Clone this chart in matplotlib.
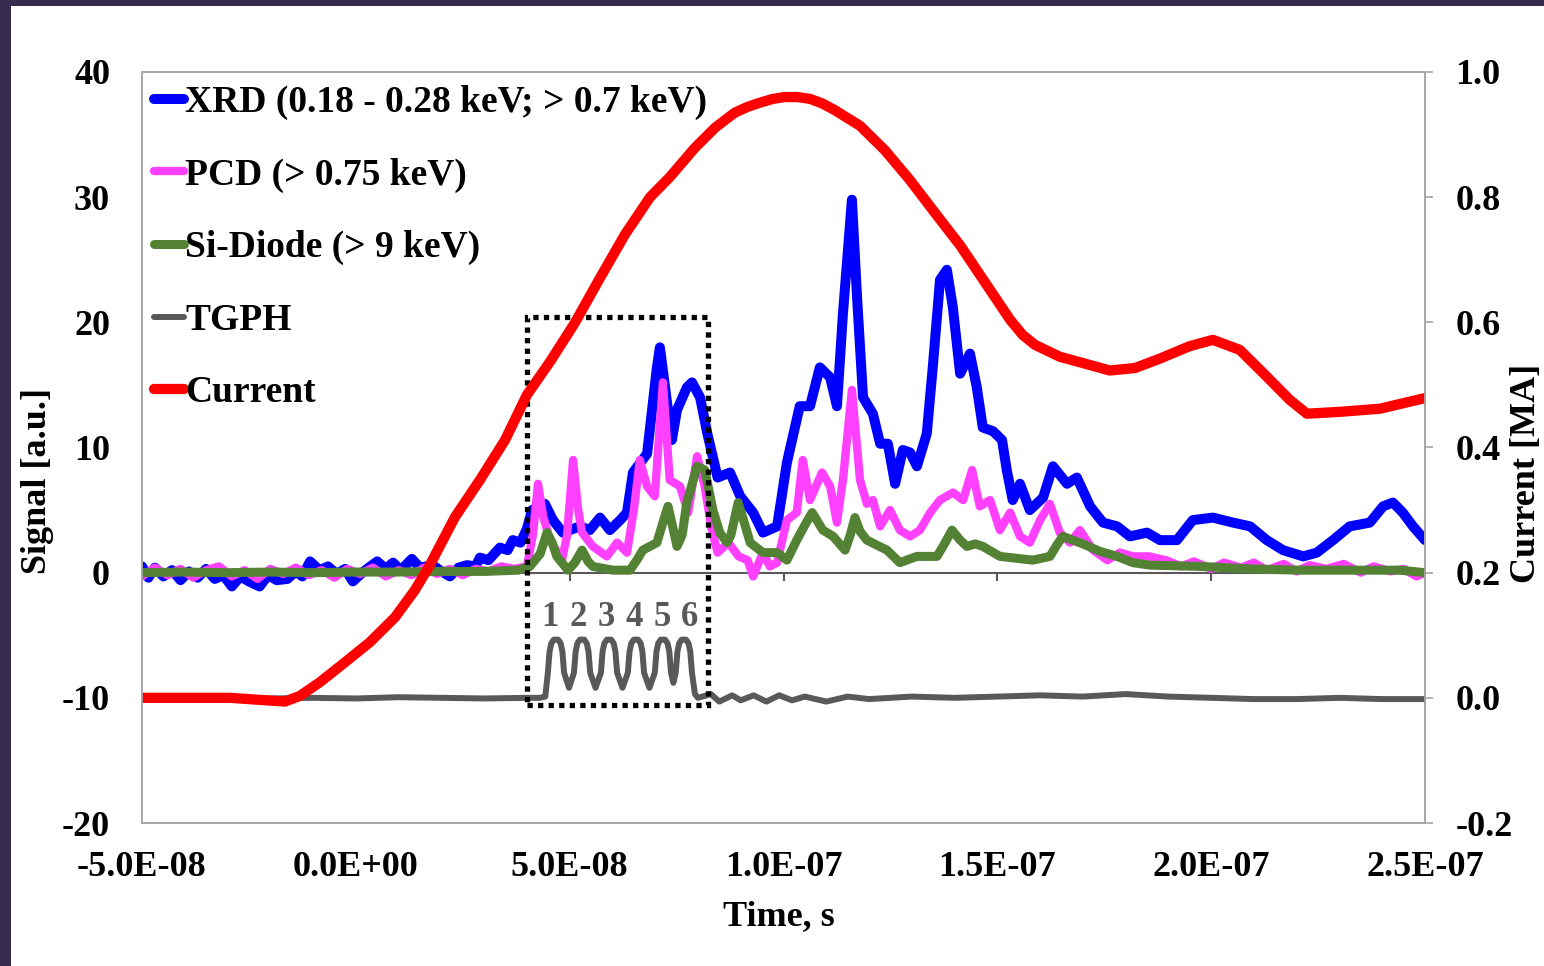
import matplotlib
matplotlib.use('Agg')
import matplotlib.pyplot as plt
from matplotlib.patches import Rectangle
import numpy as np

plt.rcParams['font.family'] = ['Liberation Serif', 'DejaVu Serif']
plt.rcParams['font.weight'] = 'bold'
plt.rcParams['axes.unicode_minus'] = False

# time in ns, signal in a.u., current in MA
xrd_t = [-50, -48.5, -47, -45, -43, -41, -39, -37, -35, -33, -31, -29, -27, -25, -22.5, -20.5,
         -18.5, -16, -14, -12.5, -10.7, -8.5, -6.5, -4.5, -2.5, -0.7, 1.5, 3, 5, 7, 8.7, 10.5,
         13.1, 15, 18, 20, 22, 24, 26, 28, 29, 31, 33.7, 35.5, 36.7, 38.5, 40, 41.2, 44.2, 46.1,
         48.4, 52.4, 54.7, 57.1, 59.4, 61.8, 63.4, 64.8, 68.1, 70.4, 71.1, 72.7, 73.9, 75.1, 77.4,
         78.6, 80.5, 82.2, 84.6, 87.5, 89.9, 92.9, 95.2, 98.5, 100.8, 103.8, 106.2, 108.5, 110.9,
         112.5, 113.9, 116.0, 117.2, 118.6, 120.9, 122.6, 124.4, 126.1, 127.9, 129.6, 131.2, 133.5,
         134.9, 136.6, 138.2, 139.6, 141.3, 143.6, 145.2, 146.6, 149.0, 151.1, 152.2, 153.6, 155.3,
         157.6, 160.7, 163.0, 166.3, 168.6, 171.7, 174.7, 178.0, 181.0, 185.0, 188.0, 192.0, 195.7,
         200.4, 205.1, 209.1, 213.0, 216.8, 221.5, 224.7, 228.5, 232.4, 237.1, 240.2, 242.5, 244.8,
         247.2, 250.0]
xrd = [0.5, -0.4, 0.4, -0.3, 0.2, -0.6, 0.1, -0.4, 0.3, -0.5, -0.2, -1.1, -0.3, -0.7, -1.1, -0.2,
       -0.6, -0.5, 0.1, -0.3, 0.9, 0.2, 0.5, -0.1, 0.3, -0.7, 0.0, 0.4, 0.9, 0.3, 0.8, 0.2,
       1.1, 0.4, 0.6, 0.1, -0.3, 0.4, 0.6, 0.5, 1.2, 1.0, 2.0, 1.8, 2.6, 2.4, 3.5, 5.0, 5.5, 4.2,
       3.2, 3.7, 3.4, 4.4, 3.4, 4.2, 4.8, 8.0, 9.5, 16.4, 18.0, 13.8, 10.6, 13.0, 14.8,
       15.2, 14.0, 11.1, 7.6, 8.0, 6.1, 4.8, 3.2, 3.7, 8.8, 13.3, 13.3, 16.4, 15.6,
       13.3, 20.7, 29.8, 22.0, 14.0, 12.7, 10.3, 10.3, 7.1, 9.8, 9.6, 8.5, 11.1,
       16.4, 23.4, 24.2, 21.2, 15.9, 17.5, 14.8, 11.6, 11.3, 10.6, 8.2, 5.8, 7.1,
       5.0, 6.0, 8.5, 7.1, 7.6, 5.3, 4.0, 3.7, 2.9, 3.2, 2.6, 2.6, 4.2,
       4.4, 4.0, 3.7, 2.6, 1.8, 1.3, 1.6, 2.6, 3.7, 4.0, 5.3, 5.6, 4.8,
       3.7, 2.6]

pcd_t = [-50, -47, -44, -41, -38, -35, -32, -29, -26, -23, -20, -17, -14, -11, -8, -5, -2, 1, 4, 7,
         10, 13, 16, 19, 22, 25, 28, 31, 34, 37, 40, 41.4, 42.6, 43.8, 45.4, 48.2, 49.4, 50.8, 52.0,
         52.9, 55.4, 58.7, 61.1, 63.4, 65.0, 66.4, 68.1, 69.9, 71.8, 73.4, 75.8, 77.7, 79.8, 81.5,
         83.2, 84.6, 87.1, 89.5, 91.6, 92.9, 95.2, 96.8, 98.5, 100.8, 103.1, 104.5, 106.2, 109.0,
         110.9, 112.5, 113.9, 116.0, 117.9, 119.5, 120.9, 122.6, 124.9, 127.2, 129.6, 131.9, 134.3,
         136.6, 139.6, 142.0, 144.1, 145.9, 148.3, 150.6, 153.0, 155.3, 157.6, 160.0, 162.3, 164.6,
         167.0, 169.3, 172.4, 175.7, 178.7, 181.7, 185.4, 189.4, 193, 196, 200, 203, 207, 210, 213,
         217, 220, 223, 227, 231, 235, 238, 242, 245, 248, 250]
pcd = [-0.3, 0.4, -0.2, 0.3, -0.4, 0.2, 0.5, -0.3, 0.2, -0.5, 0.3, -0.1, 0.4, -0.2, 0.2, -0.4, 0.3,
       -0.1, 0.4, -0.3, 0.2, -0.2, 0.4, -0.1, 0.3, -0.2, 0.3, 0.1, 0.5, 0.3, 0.5, 3.0, 7.1, 4.5,
       2.6, 1.0, 3.0, 9.0, 5.0, 3.2, 2.1, 1.3, 2.4, 1.6, 5.0, 9.0, 6.9, 6.1, 15.2, 7.4, 6.9, 4.8,
       9.3, 7.0, 3.5, 1.6, 2.4, 1.3, 1.0, -0.3, 1.6, 0.5, 0.8, 4.2, 4.8, 9.0, 5.8, 8.0, 6.9, 4.0,
       7.4, 14.6, 7.4, 5.5, 5.8, 3.7, 5.0, 3.4, 2.9, 3.4, 4.8, 5.8, 6.4, 5.8, 8.2, 5.3, 5.8, 3.4,
       4.8, 2.9, 2.4, 4.2, 5.5, 3.2, 2.4, 3.4, 1.8, 1.0, 1.6, 1.3, 1.3, 1.0, 0.5, 0.9, 0.3, 0.8,
       0.4, 0.8, 0.2, 0.7, 0.1, 0.6, 0.3, 0.7, 0.0, 0.5, 0.1, 0.3, -0.3, 0.0]

si_t = [-50, -40, -30, -20, -10, 0, 10, 20, 30, 38, 40.7, 43.1, 44.7, 45.9, 47.0, 49.6, 51.2, 52.9,
        54.3, 55.4, 60.1, 64.1, 65.7, 67.1, 70.4, 71.8, 73.0, 74.2, 75.1, 76.3, 77.4, 79.8, 81.6,
        83.5, 85.1, 86.8, 87.7, 89.4, 91.0, 92.2, 95.2, 98.5, 100.8, 103.1, 105.0, 106.7, 109.2,
        111.6, 114.4, 115.6, 116.7, 117.9, 119.5, 124.2, 127.2, 131.2, 135.9, 137.8, 139.4, 141.3,
        142.9, 144.8, 146.6, 150.6, 158.3, 162.3, 163.9, 165.3, 170.0, 174.0, 178.0, 181.7, 185.7,
        197.4, 209.1, 220.7, 232.4, 244.1, 250.0]
si = [0.0, 0.05, 0.0, 0.05, 0.0, 0.05, 0.05, 0.1, 0.1, 0.2, 0.5, 1.5, 3.2, 2.4, 1.3, 0.2, 0.8, 1.8,
      0.9, 0.5, 0.2, 0.2, 1.0, 1.8, 2.4, 4.0, 5.3, 3.5, 2.1, 3.0, 5.6, 8.5, 8.2,
      5.0, 3.2, 2.4, 3.0, 5.6, 3.8, 2.4, 1.6, 1.6, 1.0, 2.6, 3.8, 4.8, 3.4,
      2.9, 1.8, 3.0, 4.4, 3.3, 2.6, 1.8, 0.8, 1.3, 1.3, 2.4, 3.4, 2.6,
      2.1, 2.3, 2.1, 1.3, 1.0, 1.3, 2.2, 2.9, 2.3, 1.7, 1.3, 0.8, 0.6,
      0.5, 0.3, 0.2, 0.2, 0.2, 0.0]

tgph_t = [-50, -40, -30, -20, -10, 0, 10, 20, 30, 40, 43.0, 44.3,
          44.9, 45.3, 45.7, 46.3, 47.3, 47.9, 48.3, 48.7, 49.85,
          51.0, 51.4, 51.8, 52.4, 53.4, 54.0, 54.4, 54.8, 56.05,
          57.3, 57.7, 58.1, 58.7, 59.7, 60.3, 60.7, 61.1, 62.35,
          63.6, 64.0, 64.4, 65.0, 66.0, 66.6, 67.0, 67.4, 68.65,
          69.9, 70.3, 70.7, 71.3, 72.3, 72.9, 73.3, 73.7, 74.25,
          74.8, 75.2, 75.6, 76.2, 77.2, 77.8, 78.2, 78.6, 79.3, 80.0,
          83, 85, 88, 90, 93, 96, 99, 102,
          105, 110, 115, 120, 130, 140, 150, 160, 170, 180, 190, 200, 210, 220, 230, 240, 250]
tgph = [-10.0, -10.05, -9.95, -10.05, -10.0, -10.05, -9.95, -10.0, -10.05, -10.0, -10.0, -9.9,
        -8.0, -6.3, -5.65, -5.35, -5.35, -5.65, -6.3, -8.0, -9.2,
        -8.0, -6.3, -5.65, -5.35, -5.35, -5.65, -6.3, -8.0, -9.2,
        -8.0, -6.3, -5.65, -5.35, -5.35, -5.65, -6.3, -8.0, -9.2,
        -8.0, -6.3, -5.65, -5.35, -5.35, -5.65, -6.3, -8.0, -9.2,
        -8.0, -6.3, -5.65, -5.35, -5.35, -5.65, -6.3, -8.0, -8.8,
        -8.0, -6.3, -5.65, -5.35, -5.35, -5.65, -6.3, -8.0, -9.7, -10.0,
        -9.7, -10.3, -9.8, -10.2, -9.8, -10.3, -9.8, -10.2,
        -9.9, -10.3, -9.9, -10.1, -9.9, -10.0, -9.9, -9.8, -9.9,
        -9.7, -9.9, -10.0, -10.1, -10.1, -10.0, -10.1, -10.1]

cur_t = [-50, -29.4, -16.6, -13.1, -8.4, -2.5, 3.3, 9.2, 13.8, 17.3, 23.2, 29.0, 34.9, 40.0, 45.4,
         51.2, 57.1, 62.9, 68.8, 73.4, 79.3, 84.0, 88.6, 91.5, 94.5, 97.5, 100.3, 103.2, 106.2,
         109.0, 112.0, 117.9, 123.7, 129.6, 135.4, 141.3, 147.1, 153.0, 155.9, 158.8, 164.6, 170.5,
         176.3, 182.2, 188.0, 195.0, 200.4, 206.7, 212.6, 218.4, 222.4, 230.1, 239.5, 250.0]
cur = [0.0, 0.0, -0.006, 0.003, 0.025, 0.057, 0.089, 0.129, 0.172, 0.212, 0.289, 0.348, 0.412,
       0.484, 0.537, 0.599, 0.671, 0.740, 0.800, 0.832, 0.879, 0.911, 0.935, 0.944, 0.951, 0.957,
       0.960, 0.960, 0.957, 0.950, 0.939, 0.914, 0.875, 0.827, 0.775, 0.723, 0.664, 0.604, 0.580,
       0.564, 0.545, 0.534, 0.523, 0.527, 0.542, 0.562, 0.572, 0.556, 0.516, 0.476, 0.454, 0.457,
       0.462, 0.479]

pulse_t = [45.4, 51.9, 58.5, 65.0, 71.6, 78.1]
pulse_labels = ['1', '2', '3', '4', '5', '6']

xticks = [-5e-8, 0, 5e-8, 1e-7, 1.5e-7, 2e-7, 2.5e-7]
xticklabels = ['-5.0E-08', '0.0E+00', '5.0E-08', '1.0E-07', '1.5E-07', '2.0E-07', '2.5E-07']

ns = 1e-9
fig = plt.figure(figsize=(15.44, 9.66), dpi=100, facecolor='#372c4e')
fig.patches.append(Rectangle((11 / 1544, 0), 1, 1 - 6 / 966, transform=fig.transFigure,
                             facecolor='white', edgecolor='none', zorder=-10))
ax = fig.add_axes([142 / 1544, 1 - 823 / 966, 1283 / 1544, 751 / 966])
ax.set_facecolor('none')

fs = 26
kw = dict(solid_capstyle='round', solid_joinstyle='round')
ax.plot(np.array(xrd_t) * ns, xrd, color='#0000ff', lw=7.2, label='XRD (0.18 - 0.28 keV; > 0.7 keV)',
        zorder=2, **kw)
ax.plot(np.array(pcd_t) * ns, pcd, color='#ff40ff', lw=6, label='PCD (> 0.75 keV)', zorder=3, **kw)
ax.plot(np.array(si_t) * ns, si, color='#548235', lw=6.5, label='Si-Diode (> 9 keV)', zorder=4, **kw)
ax.plot(np.array(tgph_t) * ns, tgph, color='#595959', lw=4.3, label='TGPH', zorder=4, **kw)

ax.add_patch(Rectangle((40.0 * ns, -10.6), 42.3 * ns, 31.0, fill=False, edgecolor='black',
                       lw=3.8, linestyle=(0, (1, 1)), zorder=5))
for t, s in zip(pulse_t, pulse_labels):
    ax.text(t * ns, -3.6, s, color='#595959', fontsize=25, fontweight='bold', ha='center', va='center')

ax.set_xlim(-5e-8, 2.5e-7)
ax.set_ylim(-20, 40)
ax.set_yticks(range(-20, 41, 10))
ax.set_xticks(xticks)
ax.set_xticklabels(xticklabels)
ax.tick_params(axis='y', length=0, pad=23, labelsize=fs)
ax.tick_params(axis='x', length=0, pad=20, labelsize=fs)
for sp in ax.spines.values():
    sp.set_color('#a6a6a6')
    sp.set_linewidth(1.2)

# horizontal axis crossing at signal = 0
sec = ax.secondary_xaxis(20 / 60)
sec.set_xticks(xticks[1:-1])
sec.set_xticklabels([])
sec.tick_params(axis='x', direction='out', length=6, width=1.5, color='#595959')
for sp in sec.spines.values():
    sp.set_color('#595959')
    sp.set_linewidth(1.5)

ax2 = ax.twinx()
ax2.plot(np.array(cur_t) * ns, cur, color='#ff0000', lw=7.4, label='Current', **kw)
ax2.set_ylim(-0.2, 1.0)
ax2.set_yticks([-0.2, 0.0, 0.2, 0.4, 0.6, 0.8, 1.0])
ax2.set_yticklabels(['%.1f' % v for v in [-0.2, 0.0, 0.2, 0.4, 0.6, 0.8, 1.0]])
ax2.tick_params(axis='y', direction='out', length=6, width=1.2, color='#a6a6a6', pad=16, labelsize=fs)
for sp in ax2.spines.values():
    sp.set_color('#a6a6a6')
    sp.set_linewidth(1.2)

h1, l1 = ax.get_legend_handles_labels()
h2, l2 = ax2.get_legend_handles_labels()
leg = ax2.legend(h1 + h2, l1 + l2, loc='upper left', bbox_to_anchor=(0.009, 0.983), frameon=False,
                 fontsize=27, handlelength=0.8, handletextpad=0.05, labelspacing=1.0,
                 borderpad=0, borderaxespad=0)

fig.text(38 / 1544, 1 - 481 / 966, 'Signal [a.u.]', rotation=90, ha='center', va='center', fontsize=fs)
fig.text(1527 / 1544, 1 - 473 / 966, 'Current [MA]', rotation=90, ha='center', va='center', fontsize=fs)
fig.text(779 / 1544, 1 - 917 / 966, 'Time, s', ha='center', va='center', fontsize=fs)

fig.savefig('out.png', dpi=100, facecolor=fig.get_facecolor())
